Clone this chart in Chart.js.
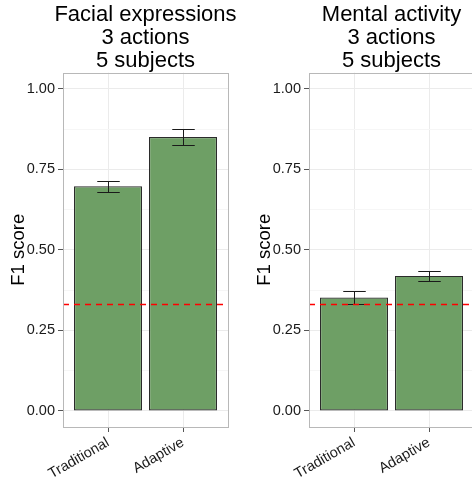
<!DOCTYPE html>
<html>
<head>
<meta charset="utf-8">
<script src="https://cdn.jsdelivr.net/npm/chart.js@4.4.0/dist/chart.umd.min.js"></script>
<style>
  html, body { margin: 0; padding: 0; background: #fff; overflow: hidden; }
  body { width: 472px; height: 482px; position: relative; }
  .panel { position: absolute; top: 0; }
</style>
</head>
<body>
<canvas id="facial" class="panel" style="left:0" width="291" height="482"></canvas>
<canvas id="mental" class="panel" style="left:246px" width="291" height="482"></canvas>
<script>
// values
var categories = ['Traditional', 'Adaptive'];
var facialF1 = [0.697, 0.850];
var facialErr = [0.017, 0.024];
var mentalF1 = [0.352, 0.419];
var mentalErr = [0.021, 0.015];
var chanceLevel = 1 / 3;
var yMajor = [0, 0.25, 0.5, 0.75, 1];
var yMinor = [0.125, 0.375, 0.625, 0.875];

var FONT = "'Liberation Sans', Arial, sans-serif";
Chart.defaults.font.family = FONT;

function isMajor(v) { return yMajor.indexOf(v) >= 0; }

// error bars, chance line and panel border
var extras = {
  id: 'extras',
  afterDatasetsDraw: function(chart, args, opts) {
    var ctx = chart.ctx, x = chart.scales.x, y = chart.scales.y, a = chart.chartArea;
    ctx.save();
    ctx.strokeStyle = '#1a1a1a';
    ctx.lineWidth = 1;
    opts.values.forEach(function(v, i) {
      var px = Math.round(x.getPixelForValue(i + 1)) + 0.5;
      var half = x.getPixelForValue(i + 1.15) - x.getPixelForValue(i + 1);
      var top = Math.round(y.getPixelForValue(v + opts.err[i])) + 0.5;
      var bot = Math.round(y.getPixelForValue(v - opts.err[i])) + 0.5;
      ctx.beginPath();
      ctx.moveTo(px - half, top); ctx.lineTo(px + half, top);
      ctx.moveTo(px, top); ctx.lineTo(px, bot);
      ctx.moveTo(px - half, bot); ctx.lineTo(px + half, bot);
      ctx.stroke();
    });
    var cy = Math.round(y.getPixelForValue(chanceLevel)) + 0.5;
    ctx.strokeStyle = '#ff0000';
    ctx.lineWidth = 1.4;
    ctx.setLineDash([6, 5]);
    ctx.beginPath();
    ctx.moveTo(a.left, cy);
    ctx.lineTo(a.right, cy);
    ctx.stroke();
    ctx.restore();
  },
  afterDraw: function(chart) {
    var ctx = chart.ctx, a = chart.chartArea;
    ctx.save();
    ctx.strokeStyle = '#b8b8b8';
    ctx.lineWidth = 1;
    ctx.strokeRect(Math.round(a.left) + 0.5, Math.round(a.top) + 0.5,
                   Math.round(a.right - a.left), Math.round(a.bottom - a.top));
    ctx.restore();
  }
};

function makeChart(id, titleLines, values, err) {
  return new Chart(document.getElementById(id), {
    type: 'bar',
    data: {
      datasets: [{
        data: values.map(function(v, i) { return { x: i + 1, y: v }; }),
        backgroundColor: '#6e9f65',
        borderColor: '#2b2b2b',
        borderWidth: 1.2,
        borderSkipped: false,
        inflateAmount: 0,
        barPercentage: 68 / 75,
        categoryPercentage: 1
      }]
    },
    options: {
      responsive: false,
      animation: false,
      layout: { padding: 0 },
      plugins: {
        legend: { display: false },
        tooltip: { enabled: false },
        title: {
          display: true,
          text: titleLines,
          color: '#000',
          font: { family: FONT, size: 22, weight: 'normal', lineHeight: 1.055 },
          padding: { top: 3, bottom: 0 }
        },
        extras: { values: values, err: err }
      },
      scales: {
        x: {
          type: 'linear',
          min: 0.4,
          max: 2.6,
          offset: false,
          afterBuildTicks: function(s) {
            s.ticks = categories.map(function(c, i) { return { value: i + 1 }; });
          },
          afterFit: function(s) { s.height = 55; },
          ticks: {
            callback: function(v) { return categories[v - 1]; },
            minRotation: 30,
            maxRotation: 30,
            autoSkip: false,
            padding: 2,
            color: '#1a1a1a',
            font: { size: 14.5 }
          },
          grid: { offset: false, color: '#ebebeb', tickColor: '#555', tickLength: 5 },
          border: { display: false }
        },
        y: {
          min: -0.05,
          max: 1.05,
          afterBuildTicks: function(s) {
            s.ticks = yMajor.concat(yMinor).sort(function(a, b) { return a - b; })
              .map(function(v) { return { value: v }; });
          },
          afterFit: function(s) { s.width = 63; },
          ticks: {
            autoSkip: false,
            padding: 3,
            color: '#1a1a1a',
            font: { size: 14.5 },
            callback: function(v) { return isMajor(v) ? v.toFixed(2) : ''; }
          },
          grid: {
            color: function(c) { return c.tick && isMajor(c.tick.value) ? '#ebebeb' : '#f6f6f6'; },
            tickColor: function(c) { return c.tick && isMajor(c.tick.value) ? '#555' : 'rgba(0,0,0,0)'; },
            tickLength: 5
          },
          border: { display: false },
          title: {
            display: true,
            text: 'F1 score',
            color: '#000',
            font: { size: 18.5 },
            padding: { top: 8, bottom: 0 }
          }
        },
        // empty space on the right so the title centres over the panel
        spacer: {
          position: 'right',
          afterFit: function(s) { s.width = 63; },
          ticks: { display: false },
          grid: { display: false },
          border: { display: false }
        }
      }
    },
    plugins: [extras]
  });
}

makeChart('facial', ['Facial expressions', '3 actions', '5 subjects'], facialF1, facialErr);
makeChart('mental', ['Mental activity', '3 actions', '5 subjects'], mentalF1, mentalErr);
</script>
</body>
</html>
